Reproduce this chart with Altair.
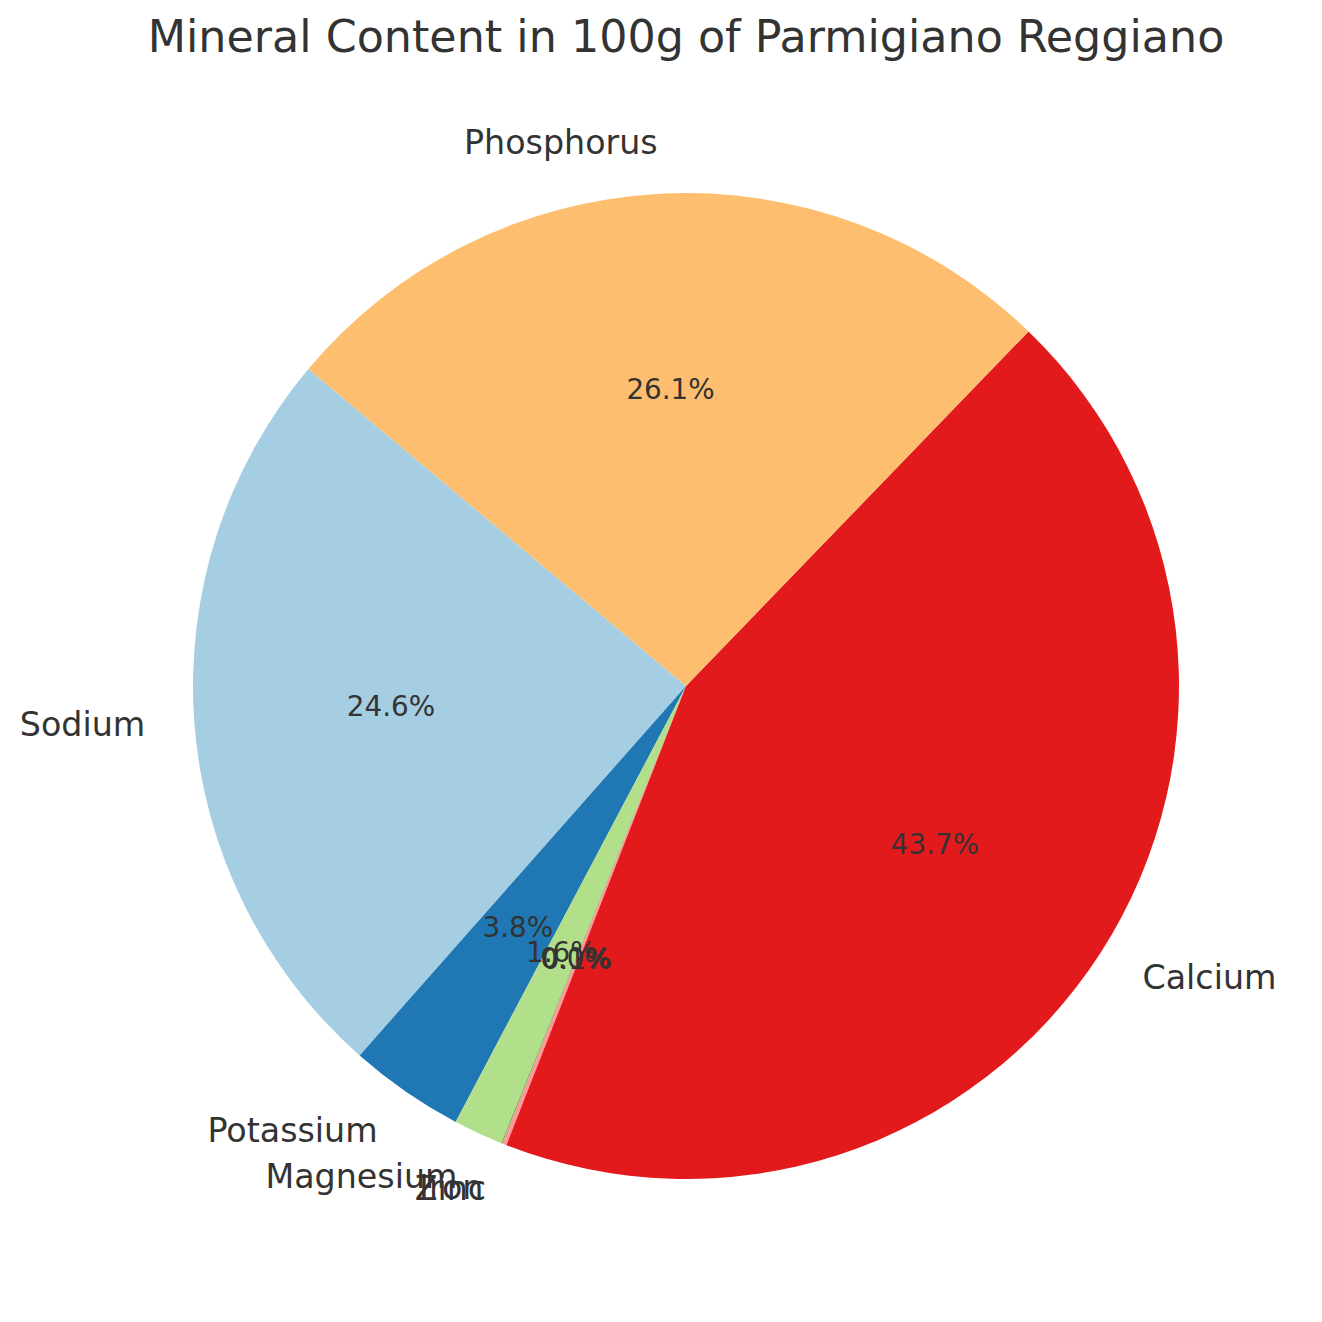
import math
import altair as alt
import pandas as pd

# Data (mg per 100 g), in the order the wedges are drawn
minerals = ["Sodium", "Potassium", "Magnesium", "Iron", "Zinc", "Calcium", "Phosphorus"]
amounts_mg = [664, 102, 44, 0.7, 4.0, 1180, 705]
colors = ["#a6cee3", "#1f78b4", "#b2df8a", "#33a02c", "#fb9a99", "#e31a1c", "#fdbf6f"]
title_text = "Mineral Content in 100g of Parmigiano Reggiano"

df = pd.DataFrame({"mineral": minerals, "mg": amounts_mg, "idx": list(range(len(minerals)))})

START = math.radians(310)
R = 493
CX, CY = 628, 590
TXT = "#333333"
FONT = "DejaVu Sans"

base = (
    alt.Chart(df)
    .transform_joinaggregate(total="sum(mg)")
    .transform_window(cum="sum(mg)", sort=[{"field": "idx", "order": "descending"}], frame=[None, 0])
    .transform_calculate(
        pct="format(datum.mg / datum.total * 100, '.1f') + '%'",
        mid=f"{START} + 2 * PI * (datum.cum - datum.mg / 2) / datum.total",
    )
    .transform_calculate(
        labL="sin(datum.mid) < 0 ? datum.mineral : ''",
        labR="sin(datum.mid) < 0 ? '' : datum.mineral",
    )
    .encode(
        theta=alt.Theta("mg:Q", stack=True, scale=alt.Scale(range=[START, START + 2 * math.pi])),
        order=alt.Order("idx:Q", sort="descending"),
        x=alt.value(CX),
        y=alt.value(CY),
    )
)

arcs = base.mark_arc(outerRadius=R).encode(
    color=alt.Color("mineral:N", scale=alt.Scale(domain=minerals, range=colors), legend=None)
)

pct_text = base.mark_text(radius=R * 0.6, fontSize=27.8, font=FONT, color=TXT, baseline="middle", align="center").encode(
    text="pct:N"
)
lab_left = base.mark_text(radius=R * 1.1, fontSize=33.3, font=FONT, color=TXT, baseline="middle", align="right").encode(
    text="labL:N"
)
lab_right = base.mark_text(radius=R * 1.1, fontSize=33.3, font=FONT, color=TXT, baseline="middle", align="left").encode(
    text="labR:N"
)

chart = (
    alt.layer(arcs, pct_text, lab_left, lab_right)
    .properties(
        width=1256,
        height=1218,
        padding={"top": 88, "left": 50, "right": 0, "bottom": 0},
        autosize=alt.AutoSizeParams(type="none"),
        title=alt.TitleParams(
            title_text, fontSize=44.4, font=FONT, color=TXT, fontWeight="normal",
            anchor="middle", baseline="alphabetic", offset=0,
        ),
    )
    .configure_view(stroke=None)
)

chart.save("out.html", embed_options={"renderer": "svg", "actions": False})
